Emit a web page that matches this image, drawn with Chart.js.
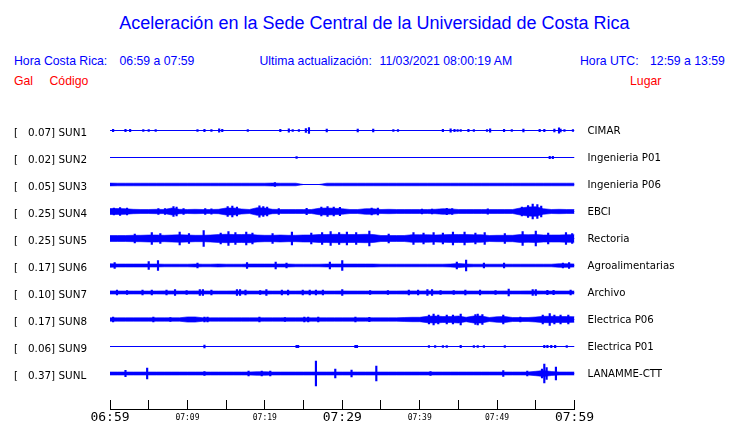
<!DOCTYPE html>
<html lang="es">
<head>
<meta charset="UTF-8">
<title>Aceleración en la Sede Central de la Universidad de Costa Rica</title>
<script src="https://cdn.jsdelivr.net/npm/chart.js"></script>
<style>
  body { margin: 0; background: #fff; }
  #wrap { position: relative; width: 740px; height: 423px; font-family: "Liberation Sans", Arial, sans-serif; }
  #wrap canvas { position: absolute; left: 0; top: 0; }
  .t { position: absolute; white-space: nowrap; line-height: 1; font-size: 12.25px; color: #0000ff; }
  .red { color: #ff0000; }
  #title { font-size: 18px; left: 0; width: 749px; text-align: center; top: 14px; }
</style>
</head>
<body>
<div id="wrap">
  <div class="t" id="title">Aceleración en la Sede Central de la Universidad de Costa Rica</div>
  <div class="t" style="left:14px;top:55px">Hora Costa Rica:</div>
  <div class="t" style="left:119.5px;top:55px">06:59 a 07:59</div>
  <div class="t" style="left:259.5px;top:55px">Ultima actualización:</div>
  <div class="t" style="left:379.5px;top:55px">11/03/2021 08:00:19 AM</div>
  <div class="t" style="left:580px;top:55px">Hora UTC:</div>
  <div class="t" style="left:650px;top:55px">12:59 a 13:59</div>
  <div class="t red" style="left:14px;top:74.5px">Gal</div>
  <div class="t red" style="left:49.5px;top:74.5px">Código</div>
  <div class="t red" style="left:630px;top:74.5px">Lugar</div>
  <canvas id="chart" width="740" height="423"></canvas>
</div>

<script>
// estaciones
const codes  = ['SUN1', 'SUN2', 'SUN3', 'SUN4', 'SUN5', 'SUN6', 'SUN7', 'SUN8', 'SUN9', 'SUNL'];
const gal    = ['0.07', '0.02', '0.05', '0.25', '0.25', '0.17', '0.10', '0.17', '0.06', '0.37'];
const places = ['CIMAR', 'Ingenieria P01', 'Ingenieria P06', 'EBCI', 'Rectoria', 'Agroalimentarias',
                'Archivo', 'Electrica P06', 'Electrica P01', 'LANAMME-CTT'];

// eje de tiempo (minutos desde 06:59)
const tickMinutes = [0, 5, 10, 15, 20, 25, 30, 35, 40, 45, 50, 55, 60];
const tickLabels  = ['06:59', '', '07:09', '', '07:19', '', '07:29', '', '07:39', '', '07:49', '', '07:59'];
const bigLabels   = ['06:59', '07:29', '07:59'];

// envolvente (media amplitud) en cada minuto 0..60; [] = traza tranquila
const envSUN1 = [];
const envSUN2 = [];
const envSUN3 = [1.4,1.3,1.3,1.3,1.3,1.3,1.3,1.3,1.3,1.3, 1.3,1.3,1.3,1.3,1.3,1.3,1.3,1.3,1.3,1.3,
                 1.3,1.5,1.3,1.3,1.3,0,0,0,1.3,1.3, 1.3,1.3,1.3,1.3,1.3,1.3,1.3,1.3,1.3,1.3,
                 1.3,1.3,1.3,1.3,1.3,1.3,1.3,1.3,1.3,1.3, 1.3,1.3,1.3,1.3,1.3,1.3,1.3,1.3,1.3,1.3,1.3];
const envSUN4 = [3.0,3.0,2.8,2.2,2.0,2.0,2.2,2.0,3.5,2.2, 2.0,2.2,2.0,2.0,2.2,3.5,3.5,2.5,2.0,3.8,
                 3.5,2.2,2.0,2.0,2.0,2.0,2.0,3.2,3.5,3.2, 2.8,2.0,2.0,2.8,2.8,2.0,2.2,2.0,2.0,2.0,
                 2.0,2.0,2.2,2.8,2.6,2.0,2.0,2.0,2.0,2.0, 2.0,2.0,2.0,3.5,4.5,4.8,2.8,2.0,2.2,2.0,2.0];
const envSUN5 = [3.0,3.0,3.0,3.2,3.2,3.5,3.5,3.2,3.5,3.8, 3.5,3.2,3.2,3.5,4.0,4.2,4.0,4.0,4.2,3.5,
                 3.2,3.2,3.5,3.2,3.2,3.5,3.5,4.0,4.0,4.2, 4.2,4.0,4.0,4.2,4.0,3.0,3.0,3.0,3.0,3.8,
                 3.8,3.8,3.5,3.8,4.0,4.0,4.0,3.8,3.8,3.0, 3.2,3.2,3.2,4.0,3.8,4.0,3.5,3.5,3.5,3.8,3.8];
const envSUN6 = [1.8,1.5,1.5,1.5,1.5,1.5,1.5,1.3,1.3,1.3, 1.3,1.5,1.3,1.3,1.5,1.3,1.3,1.3,1.5,1.5,
                 1.5,1.5,1.5,1.5,1.3,1.3,1.3,1.3,1.5,1.5, 1.5,1.5,1.5,1.5,1.5,1.3,1.3,1.3,1.3,1.3,
                 1.3,1.3,1.3,1.3,1.5,2.0,1.5,1.3,1.3,1.3, 1.3,1.3,1.3,1.3,1.3,1.3,1.3,1.3,1.8,1.8,1.5];
const envSUN7 = [1.6,1.5,1.5,1.5,1.5,1.5,1.5,1.6,1.6,1.5, 1.5,1.6,1.6,1.5,1.5,1.5,1.6,1.6,1.5,1.5,
                 1.6,1.5,1.5,1.5,1.5,1.6,1.5,1.6,1.5,1.5, 1.6,1.5,1.5,1.5,1.5,1.5,1.5,1.5,1.6,1.6,
                 1.5,1.6,1.6,1.5,1.5,1.5,1.5,1.5,1.5,1.5, 1.5,1.6,1.5,1.5,1.6,1.6,1.5,1.5,1.5,1.5,1.5];
const envSUN8 = [1.7,1.7,1.7,1.7,1.7,1.7,1.7,1.7,1.7,1.7, 2.6,2.6,1.7,1.7,1.7,1.7,1.7,1.7,1.7,1.7,
                 1.7,1.7,1.7,1.7,1.7,1.7,1.7,1.7,1.7,1.7, 1.7,1.7,1.7,1.7,1.7,1.7,1.7,1.7,2.0,2.2,
                 2.2,3.2,3.5,3.0,3.0,3.5,2.2,3.5,3.5,2.0, 2.8,3.0,2.0,2.0,2.0,2.5,3.2,3.2,3.0,3.0,2.8];
const envSUN9 = [];
const envSUNL = [1.5,1.5,1.5,1.5,1.5,1.5,1.5,1.5,1.5,1.5, 1.5,1.5,1.5,1.5,1.5,1.5,1.5,1.5,1.5,1.8,
                 1.8,1.5,1.5,1.5,1.5,1.5,1.5,1.5,1.5,1.5, 1.5,1.5,1.5,1.5,1.5,1.5,1.5,1.5,1.5,1.5,
                 1.5,1.5,1.5,1.5,1.5,1.5,1.5,1.5,1.5,1.5, 1.5,1.5,1.5,1.5,1.5,2.2,3.0,2.0,1.5,1.5,1.5];

// picos aislados: [minuto, media amplitud]
const pkSUN1 = [[0.4,1.2],[2,1.2],[2.6,1.2],[4.3,1],[5,1],[5.9,1],[11.3,1],[12.2,1.2],[13.1,1],[14.1,1.7],
                [14.5,1.2],[17.8,1],[22,1.2],[23.1,1.7],[23.6,1],[24.4,1],[25.3,2],[25.7,2.8],[28,1.5],
                [32,1.5],[34,1.5],[36.6,1],[37.2,1],[43,1.2],[44,1.7],[44.5,1.2],[44.9,1],[45.3,1],[46.3,1.2],
                [47,1],[48.7,1],[49.1,1.7],[50.9,1.2],[51.9,1],[53.4,1.5],[55.5,1.2],[56.1,1.2],[57.4,1.5],
                [58,2.6],[58.2,1.5],[58.7,1],[59.8,1]];
const pkSUN2 = [[24.1,1],[56.8,1.2],[57.2,1.2]];
const pkSUN3 = [[21.3,2]];
const pkSUN4 = [[0.5,3.5],[1.3,3.8],[2.2,3.5],[6.25,3],[7.1,2.8],[8.2,5],[8.6,4.5],[9.5,2.8],[12.3,2.8],
                [13.1,2.6],[15.2,5],[15.8,5.5],[16.4,4.5],[19.3,5.7],[19.8,5],[20.3,4.5],[21.8,3],[25.4,3.2],
                [27.3,4.5],[28.1,5],[28.9,4.5],[29.7,4.2],[33.8,3.5],[34.6,3.5],[40.3,2.5],[41.6,2.5],
                [43.5,3.2],[44.2,3],[48.8,2.6],[53.2,4.5],[54,6],[54.6,7.5],[55.2,7],[55.7,5.5]];
const pkSUN5 = [[3.2,4.5],[5.4,6],[6.5,5],[9,6.5],[10.2,5],[12.1,8],[14.3,5.5],[15.3,7],[16.2,6],[17.6,6.5],
                [18.4,5.5],[21,5],[23.5,6.5],[26,5.5],[27.4,6],[28.5,7],[29.6,6],[30.6,6.5],[31.8,6],[33.5,7.5],
                [36,4.5],[39.2,6],[40.5,5.5],[41.8,6],[43,5.5],[44.3,6.5],[45.8,6.5],[47.2,5.5],[48.4,6],
                [51,5],[53.3,7],[55,7.5],[56.6,5.5],[58.9,6],[59.7,5]];
const pkSUN6 = [[0.6,3],[5,4],[6.2,5],[11.3,2.5],[17.7,3],[21.4,3.5],[22.8,2.5],[28.4,3.5],[30,5],
                [44.8,3.5],[46,5.3],[48.3,2.5],[50.9,2.5],[58.5,2.5],[59.3,3]];
const pkSUN7 = [[0.9,2.5],[2.2,2],[4.2,2.3],[5.4,2.3],[7.3,2.5],[8.4,3],[9.9,2],[11.6,3],[12,3],[13.1,2.5],
                [16.4,3],[16.8,3],[17.5,2.5],[19.4,2],[20.2,3],[22.2,2.5],[23,2.5],[24.9,2.5],[25.8,2.5],
                [26.6,2.5],[27.5,2.5],[30,3],[33.6,2],[35.9,2],[38.6,2.5],[39.8,2.5],[41,3],[41.6,3],
                [42.7,2],[44.4,2],[45.9,2.5],[47.8,2.5],[49.8,2],[51.5,3.5],[54.6,3],[55,3],[56.5,2.2],
                [57.3,2.2],[59.5,2.5]];
const pkSUN8 = [[0.4,2.5],[5.6,2.5],[7.8,2],[12.2,2.5],[12.6,2.5],[19.3,2.5],[22.6,2],[25.1,2.5],[25.6,2.5],
                [26.9,2.5],[31.7,2.5],[33.5,2.2],[41.2,4.5],[41.8,5.5],[42.4,4.5],[43.5,4.5],[44.3,4.5],
                [45.3,5.5],[47.2,5],[47.5,5.5],[48.1,5],[50.8,4.5],[53,2.5],[55.9,4.5],[56.8,6],[57.4,4.5],
                [58.2,4.5],[59.2,4.5]];
const pkSUN9 = [[12.2,1.5],[24.1,1.2],[24.3,1.2],[31.7,1.2],[31.9,1.2],[41.2,1],[42,1],[43,1],[43.5,1],
                [45.3,1.2],[47,1],[47.5,1],[48.3,1],[51,1],[56.1,1.2],[56.5,1.2],[57,1.2],[57.5,1.2],[59,1]];
const pkSUNL = [[2,3.2],[4.8,5.3],[12.2,2],[17.9,2.5],[19.6,2.5],[20.7,2.5],[26.6,12.5],[29.1,4.5],[31.2,3.5],
                [34.4,7.5],[41.4,2],[50.8,3],[53.9,2.5],[55.8,4.5],[56.1,9.5],[56.4,6],[57.6,6.5]];

const envs  = [envSUN1, envSUN2, envSUN3, envSUN4, envSUN5, envSUN6, envSUN7, envSUN8, envSUN9, envSUNL];
const peaks = [pkSUN1, pkSUN2, pkSUN3, pkSUN4, pkSUN5, pkSUN6, pkSUN7, pkSUN8, pkSUN9, pkSUNL];

const BLUE = '#0000ff';
const OFFSET = 27;          // separacion entre trazas
const T0 = tickMinutes[0], T1 = tickMinutes[tickMinutes.length - 1];

const datasets = [];
codes.forEach((code, i) => {
  const base = i * OFFSET;
  datasets.push({
    type: 'line', label: code,
    data: [{x: T0, y: base}, {x: T1, y: base}],
    borderColor: BLUE, borderWidth: 1, pointRadius: 0, fill: false
  });
  if (envs[i].length) {
    // banda: borde superior rellenado hasta el inferior
    datasets.push({
      type: 'line', label: code + ' sup',
      data: envs[i].map((a, m) => ({x: m, y: base - a})),
      borderColor: BLUE, borderWidth: 0.6, pointRadius: 0, tension: 0,
      backgroundColor: BLUE, fill: '+1'
    });
    datasets.push({
      type: 'line', label: code + ' inf',
      data: envs[i].map((a, m) => ({x: m, y: base + a})),
      borderColor: BLUE, borderWidth: 0.6, pointRadius: 0, tension: 0, fill: false
    });
  }
  datasets.push({
    type: 'bar', label: code + ' pk',
    data: peaks[i].map(([m, a]) => ({x: m, y: [base - a, base + a]})),
    backgroundColor: BLUE, barThickness: 1.5, grouped: false
  });
});

const rowTicks = s => { s.ticks = codes.map((c, i) => ({value: i * OFFSET})); };
const noPad = s => { s.paddingTop = 0; s.paddingBottom = 0; };

new Chart(document.getElementById('chart'), {
  type: 'bar',
  data: { datasets: datasets },
  options: {
    responsive: false,
    animation: false,
    layout: { padding: { left: 14, top: 117, right: 0, bottom: 0 } },
    plugins: { legend: { display: false }, tooltip: { enabled: false } },
    scales: {
      x: {
        type: 'linear', min: T0, max: T1, offset: false,
        afterBuildTicks: s => { s.ticks = tickMinutes.map(v => ({value: v})); },
        afterFit: s => { s.height = 14; },
        grid: { offset: false, drawOnChartArea: false, drawTicks: true, tickLength: -9, color: '#000', lineWidth: 1 },
        border: { display: true, color: '#000', width: 1 },
        ticks: {
          autoSkip: false, maxRotation: 0, padding: 9.5, color: '#000',
          callback: (v, i) => tickLabels[i],
          font: ctx => bigLabels.includes(tickLabels[ctx.index])
            ? { family: 'DejaVu Sans Mono', size: 13, lineHeight: '16px' }
            : { family: 'DejaVu Sans Mono', size: 8, lineHeight: '16px' }
        }
      },
      y: {
        position: 'left', reverse: true, min: -OFFSET / 2, max: 278.5,
        afterBuildTicks: rowTicks,
        afterFit: s => { s.width = 96; noPad(s); },
        grid: { display: false, drawTicks: false },
        border: { display: false },
        ticks: {
          crossAlign: 'far', padding: 0, labelOffset: 3, color: '#000', autoSkip: false,
          font: { family: 'DejaVu Sans', size: 10.4 },
          callback: (v, i) => '[   ' + gal[i] + '] ' + codes[i]
        }
      },
      yR: {
        position: 'right', reverse: true, min: -OFFSET / 2, max: 278.5,
        afterBuildTicks: rowTicks,
        afterFit: s => { s.width = 165.5; noPad(s); },
        grid: { display: false, drawTicks: false },
        border: { display: false },
        ticks: {
          crossAlign: 'near', padding: 13, labelOffset: 1, color: '#000', autoSkip: false,
          font: { family: 'DejaVu Sans', size: 10.2 },
          callback: (v, i) => places[i]
        }
      }
    }
  }
});
</script>
</body>
</html>
